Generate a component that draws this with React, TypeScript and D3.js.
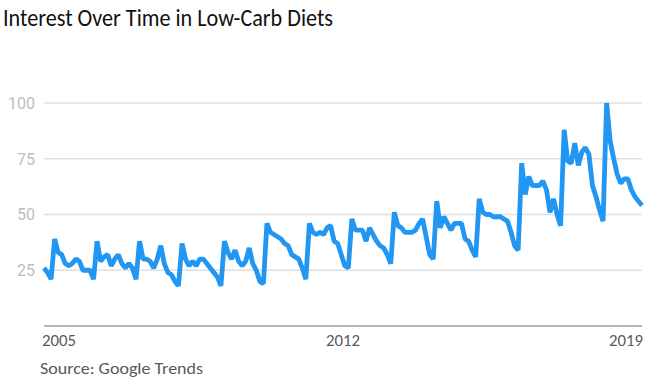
import React from "react";
import * as d3 from "d3";

// Monthly Google Trends interest (index), Oct 2004 – Nov 2018
const interest2004 = [26, 24, 21];
const interest2005 = [39, 33, 32, 28, 27, 28, 30, 29, 25, 25, 25, 21];
const interest2006 = [38, 29, 31, 32, 27, 30, 32, 28, 26, 28, 26, 21];
const interest2007 = [38, 30, 30, 29, 26, 30, 36, 28, 24, 23, 20, 18];
const interest2008 = [37, 30, 27, 29, 27, 30, 30, 28, 26, 24, 22, 18];
const interest2009 = [38, 33, 30, 34, 29, 27, 29, 35, 28, 25, 20, 19];
const interest2010 = [46, 42, 41, 40, 39, 37, 36, 32, 31, 30, 26, 21];
const interest2011 = [46, 42, 41, 42, 41, 44, 45, 38, 37, 32, 27, 26];
const interest2012 = [48, 43, 43, 43, 38, 44, 41, 38, 36, 35, 32, 28];
const interest2013 = [51, 45, 44, 42, 42, 42, 43, 46, 48, 40, 32, 30];
const interest2014 = [56, 44, 49, 46, 43, 46, 46, 46, 39, 38, 34, 31];
const interest2015 = [57, 51, 50, 50, 49, 49, 49, 48, 47, 42, 36, 34];
const interest2016 = [73, 59, 67, 63, 63, 63, 65, 61, 51, 57, 50, 45];
const interest2017 = [88, 74, 73, 82, 72, 78, 80, 77, 63, 58, 52, 47];
const interest2018 = [100, 83, 75, 68, 64, 66, 66, 61, 58, 56, 54];

const series = [
  ...interest2004, ...interest2005, ...interest2006, ...interest2007,
  ...interest2008, ...interest2009, ...interest2010, ...interest2011,
  ...interest2012, ...interest2013, ...interest2014, ...interest2015,
  ...interest2016, ...interest2017, ...interest2018,
];

const yTicks = [25, 50, 75, 100];
const xLabels = ["2005", "2012", "2019"];
const title = "Interest Over Time in Low-Carb Diets";
const source = "Source: Google Trends";

export default function App() {
  const W = 657, H = 383;
  const left = 44, right = 642, top = 103, bottom = 326;
  const x = d3.scaleLinear().domain([0, series.length - 1]).range([left, right]);
  const y = d3.scaleLinear().domain([0, 100]).range([bottom, top]);
  const line = d3.line<number>().x((_, i) => x(i)).y((d) => y(d));
  const labelX = [left - 2, (left + right) / 2, right + 1];
  const anchors = ["start", "middle", "end"];
  const font = "Carlito, Calibri, Lato, sans-serif";
  return (
    <svg width={W} height={H} style={{ position: "absolute", left: 0, top: 0, background: "#fff" }}>
      <text x={3} y={26} fontFamily={font} fontSize={24} fill="#111"
        textLength={330} lengthAdjust="spacingAndGlyphs">{title}</text>
      {yTicks.map((t) => (
        <g key={t}>
          <line x1={left} x2={right} y1={y(t)} y2={y(t)} stroke="#e0e0e0" strokeWidth={1.5} />
          <text x={35} y={y(t)} dy="0.36em" textAnchor="end" fontFamily="Roboto, sans-serif"
            fontSize={16} fill="#bdbdbd">{t}</text>
        </g>
      ))}
      <line x1={left} x2={right} y1={bottom} y2={bottom} stroke="#9e9e9e" strokeWidth={1.5} />
      {xLabels.map((l, i) => (
        <text key={l} x={labelX[i]} y={346} textAnchor={anchors[i] as any}
          fontFamily={font} fontSize={17} fill="#595959"
          textLength={34} lengthAdjust="spacingAndGlyphs">{l}</text>
      ))}
      <path d={line(series) || ""} fill="none" stroke="#2196f3" strokeWidth={4.8} strokeLinejoin="bevel" />
      <text x={40} y={374} fontFamily={font} fontSize={17} fill="#595959"
        textLength={163} lengthAdjust="spacingAndGlyphs">{source}</text>
    </svg>
  );
}
